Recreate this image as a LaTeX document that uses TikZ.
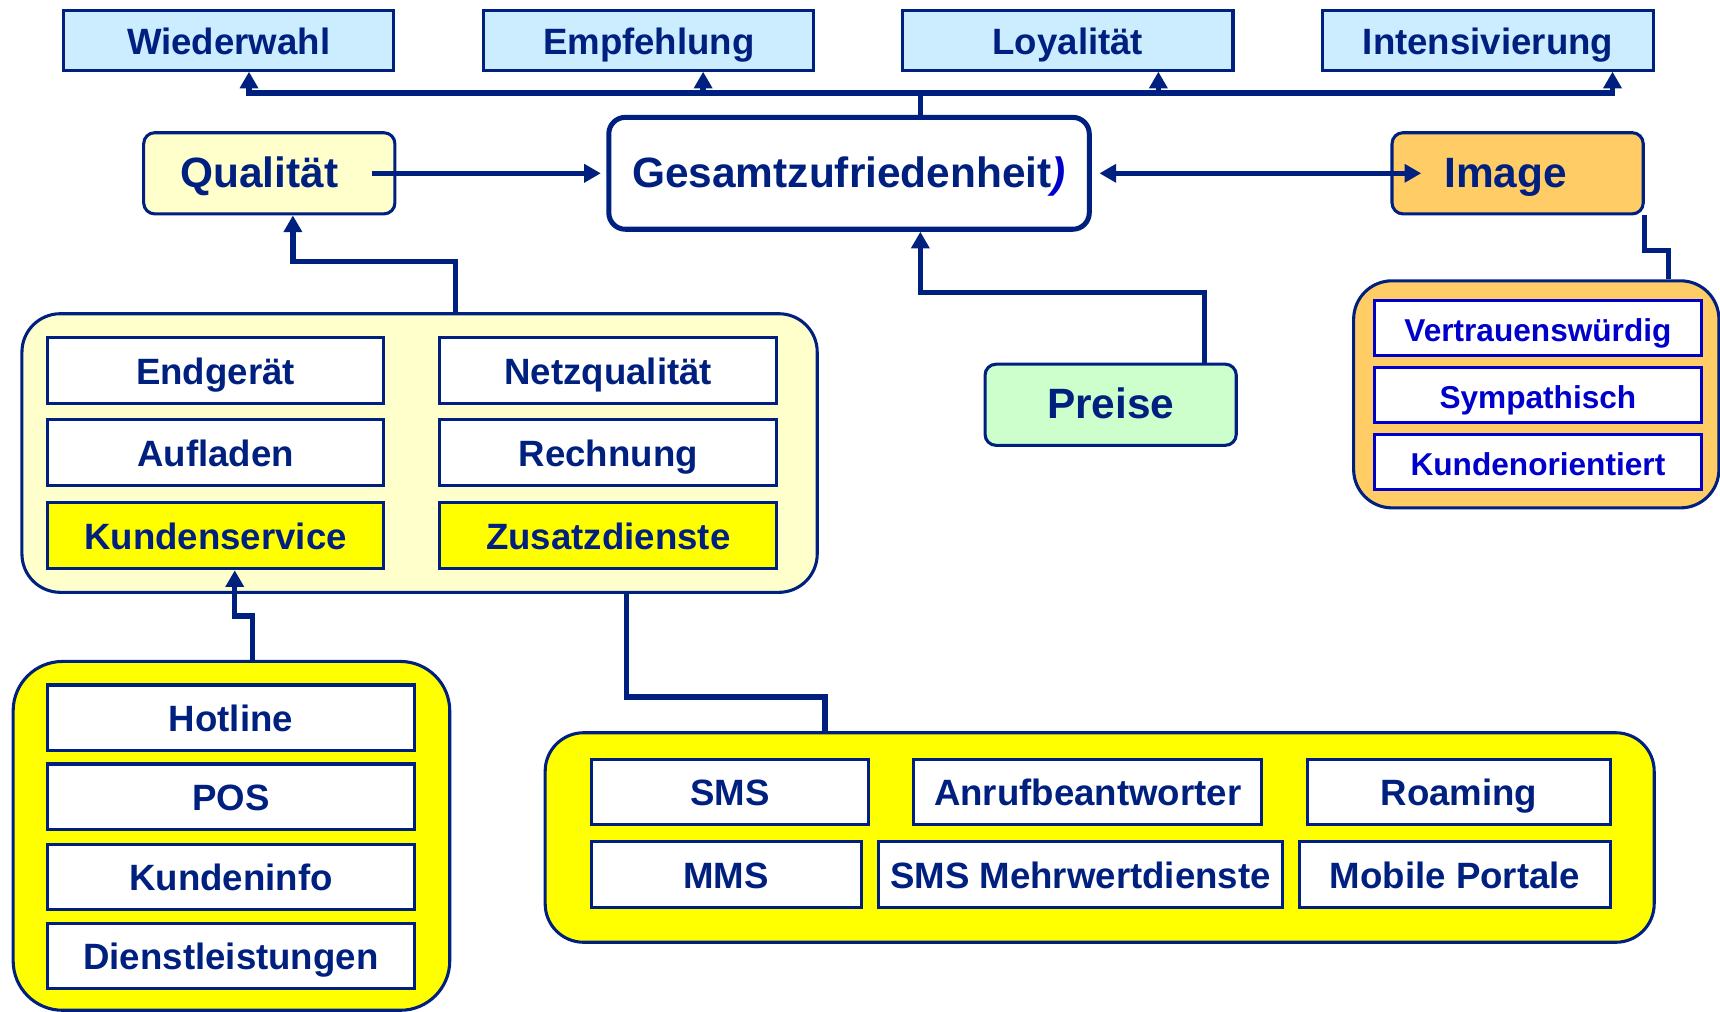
\documentclass[tikz,border=0pt]{standalone}
\usepackage{fontspec}
\setmainfont{Liberation Sans}
\usetikzlibrary{arrows.meta}

\definecolor{navy}{RGB}{0,32,128}
\definecolor{blau}{RGB}{0,0,204}
\definecolor{hellblau}{RGB}{204,236,255}
\definecolor{hellgelb}{RGB}{255,255,204}
\definecolor{hellgruen}{RGB}{204,255,204}
\definecolor{bernstein}{RGB}{255,204,102}
\definecolor{gelb}{RGB}{255,255,0}

\begin{document}
\begin{tikzpicture}[
    kasten/.style={draw=navy, line width=0.8pt, text=navy, inner sep=0pt, minimum height=0.6cm, text height=0.72em, text depth=0pt, font=\fontsize{9.5}{11}\selectfont\bfseries},
    gross/.style={kasten, rounded corners=0.1cm, minimum width=2.29cm, minimum height=0.74cm, font=\fontsize{11}{13}\selectfont\bfseries},
    gruppe/.style={draw=navy, line width=0.8pt, rounded corners=0.35cm, inner sep=0pt},
    eigen/.style={kasten, draw=blau, text=blau, fill=white, minimum width=2.98cm, minimum height=0.5cm, font=\fontsize{8.2}{10}\selectfont\bfseries},
    linie/.style={draw=navy, line width=1.4pt},
    pfeil/.style={linie, -{Triangle[length=4.3pt,width=4.6pt]}},
    ]
    \useasboundingbox (0,0) rectangle (15.68,-9.22);

    % Kästen oben
    \node[kasten, fill=hellblau, minimum width=3.01cm, minimum height=0.54cm] (wahl) at (2.085,-0.37) {Wiederwahl};
    \node[kasten, fill=hellblau, minimum width=3.01cm, minimum height=0.54cm] (empf) at (5.915,-0.37) {Empfehlung};
    \node[kasten, fill=hellblau, minimum width=3.01cm, minimum height=0.54cm] (loyal) at (9.735,-0.37) {Loyalität};
    \node[kasten, fill=hellblau, minimum width=3.01cm, minimum height=0.54cm] (intens) at (13.565,-0.37) {Intensivierung};

    % Mitte
    \node[gross, fill=hellgelb] (qual) at (2.455,-1.58) {\hspace*{-0.18cm}Qualität};
    \node[gross, fill=white, line width=1.3pt, rounded corners=0.15cm, minimum width=4.38cm, minimum height=1.02cm] (gesamt) at (7.74,-1.58) {Gesamtzufriedenheit\textcolor{blau}{\itshape)}};
    \node[gross, fill=bernstein] (image) at (13.835,-1.58) {\hspace*{-0.22cm}Image};
    \node[gross, fill=hellgruen] (preise) at (10.125,-3.69) {Preise};

    % Gruppen
    \node[gruppe, fill=hellgelb, minimum width=7.25cm, minimum height=2.54cm] (qgruppe) at (3.825,-4.13) {};
    \node[gruppe, fill=gelb, rounded corners=0.45cm, minimum width=3.98cm, minimum height=3.18cm] (kgruppe) at (2.11,-7.62) {};
    \node[gruppe, fill=gelb, minimum width=10.11cm, minimum height=1.91cm] (zgruppe) at (10.025,-7.635) {};
    \node[gruppe, fill=bernstein, minimum width=3.33cm, minimum height=2.07cm] (igruppe) at (14.005,-3.595) {};

    % Qualitaet im Einzelnen
    \node[kasten, fill=white, minimum width=3.07cm] (endg) at (1.965,-3.38) {Endgerät};
    \node[kasten, fill=white, minimum width=3.07cm] (netz) at (5.545,-3.38) {Netzqualität};
    \node[kasten, fill=white, minimum width=3.07cm] (aufl) at (1.965,-4.125) {Aufladen};
    \node[kasten, fill=white, minimum width=3.07cm] (rech) at (5.545,-4.125) {Rechnung};
    \node[kasten, fill=gelb, minimum width=3.07cm] (kund) at (1.965,-4.885) {Kundenservice};
    \node[kasten, fill=gelb, minimum width=3.07cm] (zusatz) at (5.545,-4.885) {Zusatzdienste};

    % Kundenservice im Einzelnen
    \node[kasten, fill=white, minimum width=3.35cm] (hotline) at (2.105,-6.545) {Hotline};
    \node[kasten, fill=white, minimum width=3.35cm] (pos) at (2.105,-7.265) {POS};
    \node[kasten, fill=white, minimum width=3.35cm] (kinfo) at (2.105,-7.995) {Kundeninfo};
    \node[kasten, fill=white, minimum width=3.35cm] (dienst) at (2.105,-8.715) {Dienstleistungen};

    % Zusatzdienste im Einzelnen
    \node[kasten, fill=white, minimum width=2.53cm] (sms) at (6.655,-7.22) {SMS};
    \node[kasten, fill=white, minimum width=3.17cm] (anruf) at (9.915,-7.22) {Anrufbeantworter};
    \node[kasten, fill=white, minimum width=2.76cm] (roam) at (13.30,-7.22) {Roaming};
    \node[kasten, fill=white, minimum width=2.46cm] (mms) at (6.62,-7.97) {MMS};
    \node[kasten, fill=white, minimum width=3.68cm] (smsmw) at (9.85,-7.97) {SMS Mehrwertdienste};
    \node[kasten, fill=white, minimum width=2.83cm] (mobil) at (13.265,-7.97) {Mobile Portale};

    % Image im Einzelnen
    \node[eigen] (vertr) at (14.02,-2.99) {Vertrauenswürdig};
    \node[eigen] (symp) at (14.02,-3.60) {Sympathisch};
    \node[eigen] (kori) at (14.02,-4.21) {Kundenorientiert};

    % Pfeile nach oben
    \draw[linie] ([xshift=6.5mm]gesamt.north) -- ++(0,0.2) coordinate (bus);
    \draw[pfeil] (bus) -| ([xshift=1.85mm]wahl.south);
    \draw[pfeil] (bus) -| ([xshift=4.95mm]empf.south);
    \draw[pfeil] (bus) -| ([xshift=8.25mm]loyal.south);
    \draw[pfeil] (bus) -| ([xshift=11.35mm]intens.south);

    % Pfeile zur Gesamtzufriedenheit
    \draw[pfeil, shorten >=0.5mm] ([xshift=-2.2mm]qual.east) -- (gesamt.west);
    \draw[pfeil, {Triangle[length=4.3pt,width=4.6pt]}-{Triangle[length=4.3pt,width=4.6pt]}] ([xshift=0.7mm]gesamt.east) -- ([xshift=2.8mm]image.west);
    \draw[pfeil] ([xshift=8.55mm]preise.north) -- ++(0,0.64) -| ([xshift=6.5mm]gesamt.south);

    % Verbindungen der Gruppen
    \draw[pfeil] ([xshift=3.25mm]qgruppe.north) -- ++(0,0.46) -| ([xshift=2.15mm]qual.south);
    \draw[pfeil] ([xshift=1.9mm]kgruppe.north) -- ++(0,0.40) -| ([xshift=1.75mm]kund.south);
    \draw[linie] ([xshift=18.85mm]qgruppe.south) -- ++(0,-0.94) -| ([xshift=-25.05mm]zgruppe.north);
    \draw[linie] (image.south east) -- ++(0,-0.32) -| ([xshift=12.05mm]igruppe.north);
\end{tikzpicture}
\end{document}
